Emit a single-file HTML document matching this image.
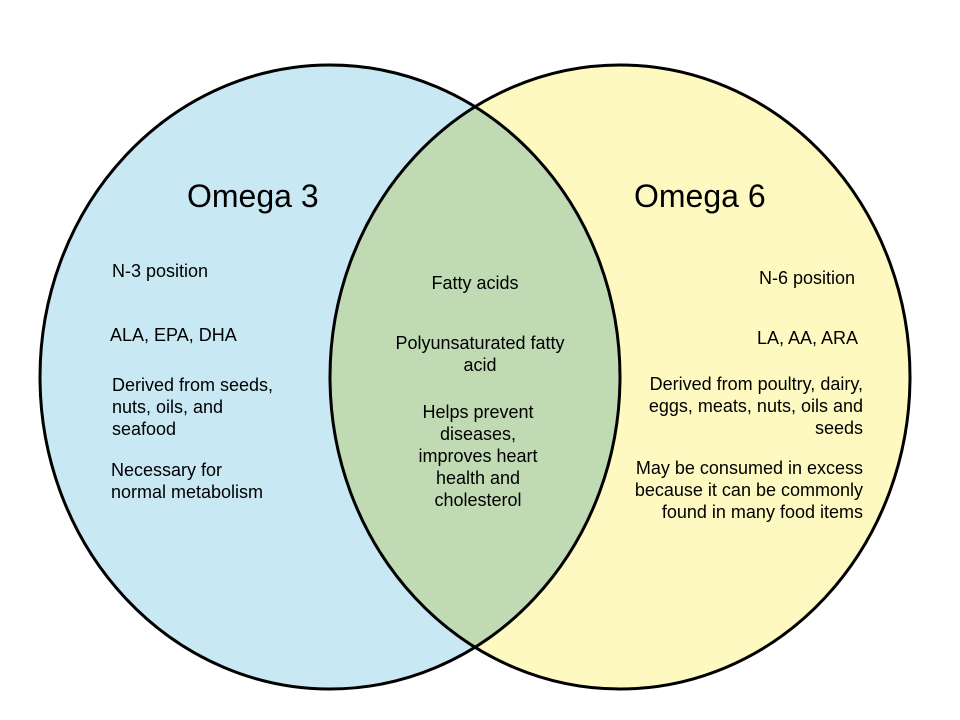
<!DOCTYPE html>
<html><head><meta charset="utf-8"><style>
body{margin:0;width:960px;height:720px;background:#fff;position:relative;overflow:hidden;font-family:"Liberation Sans",Arial,sans-serif;color:#000}
svg{position:absolute;left:0;top:0}
.t{position:absolute;font-size:18px;line-height:22px;white-space:nowrap}
.h{position:absolute;font-size:32px;line-height:40px;white-space:nowrap}
.c{text-align:center}.r{text-align:right}
</style></head><body>
<svg width="960" height="720">
<defs><clipPath id="cl"><ellipse cx="330" cy="377" rx="290" ry="312"/></clipPath></defs>
<ellipse cx="330" cy="377" rx="290" ry="312" fill="#c8e8f3"/>
<ellipse cx="620" cy="377" rx="290" ry="312" fill="#fef9c0"/>
<ellipse cx="620" cy="377" rx="290" ry="312" fill="#c0dab4" clip-path="url(#cl)"/>
<ellipse cx="330" cy="377" rx="290" ry="312" fill="none" stroke="#000" stroke-width="3"/>
<ellipse cx="620" cy="377" rx="290" ry="312" fill="none" stroke="#000" stroke-width="3"/>
</svg>
<div class="h" style="left:187px;top:176px">Omega 3</div>
<div class="h" style="left:634px;top:176px">Omega 6</div>
<div class="t" style="left:112px;top:260px">N-3 position</div>
<div class="t" style="left:110px;top:324px">ALA, EPA, DHA</div>
<div class="t" style="left:112px;top:374px">Derived from seeds,<br>nuts, oils, and<br>seafood</div>
<div class="t" style="left:111px;top:459px">Necessary for<br>normal metabolism</div>
<div class="t c" style="left:375px;width:200px;top:272px">Fatty acids</div>
<div class="t c" style="left:380px;width:200px;top:332px">Polyunsaturated fatty<br>acid</div>
<div class="t c" style="left:378px;width:200px;top:401px">Helps prevent<br>diseases,<br>improves heart<br>health and<br>cholesterol</div>
<div class="t r" style="right:105px;top:267px">N-6 position</div>
<div class="t r" style="right:102px;top:327px">LA, AA, ARA</div>
<div class="t r" style="right:97px;top:373px">Derived from poultry, dairy,<br>eggs, meats, nuts, oils and<br>seeds</div>
<div class="t r" style="right:97px;top:457px">May be consumed in excess<br>because it can be commonly<br>found in many food items</div>
</body></html>
